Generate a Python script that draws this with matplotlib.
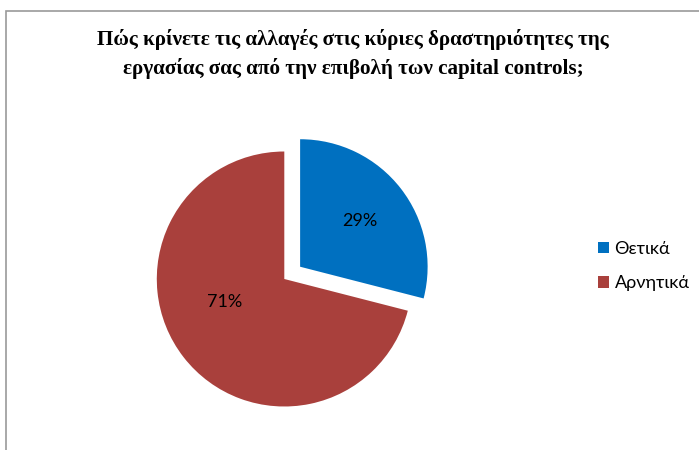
import matplotlib
matplotlib.use("Agg")
import matplotlib.pyplot as plt
from matplotlib.patches import Rectangle

title = "Πώς κρίνετε τις αλλαγές στις κύριες δραστηριότητες της\nεργασίας σας από την επιβολή των capital controls;"
categories = ["Θετικά", "Αρνητικά"]
shares = [29, 71]
colors = ["#0070C0", "#A9403C"]
explode = [0.157, 0.0]

W, H, DPI = 699, 450, 100
fig = plt.figure(figsize=(W / DPI, H / DPI), dpi=DPI)
fig.patch.set_facecolor("white")

# chart-area border (runs off the right and bottom edges)
fig.add_artist(Rectangle((6 / W, -0.1), 1.2, (H - 11) / H + 0.1,
                         transform=fig.transFigure, fill=False,
                         edgecolor="#9a9a9a", linewidth=1.2, clip_on=False))

fig.text(353 / W, 1 - 54 / H, title, ha="center", va="center",
         fontsize=15.2, fontweight="bold", family="Liberation Serif",
         linespacing=1.55)

# pie axes: 1 data unit = radius of 127.5 px, centred at (284, 279)
R = 127.5
cx, cy = 284.3, H - 279
half = 1.25 * R
ax = fig.add_axes([(cx - half) / W, (cy - half) / H, 2 * half / W, 2 * half / H])
wedges, texts, autotexts = ax.pie(
    shares, colors=colors, explode=explode, startangle=90, counterclock=False,
    autopct=lambda p: f"{p:.0f}%", pctdistance=0.59,
    textprops=dict(fontsize=13, family="Lato", color="black"),
    wedgeprops=dict(linewidth=0))
ax.set_xlim(-1.25, 1.25)
ax.set_ylim(-1.25, 1.25)
ax.set_aspect("equal")
ax.axis("off")

# label placement in the style of the spreadsheet "best fit"
autotexts[1].set_position((-59.3 / R, -23.3 / R))
autotexts[1].set_ha("center")

leg = fig.legend(wedges, categories, loc="upper left",
                 bbox_to_anchor=(598 / W, 1 - 241 / H), frameon=False,
                 prop=dict(family="Lato", size=13), handlelength=0.62,
                 handleheight=0.62, handletextpad=0.3, labelspacing=1.0,
                 borderpad=0, borderaxespad=0)

fig.savefig("out.png", dpi=DPI, facecolor="white")
